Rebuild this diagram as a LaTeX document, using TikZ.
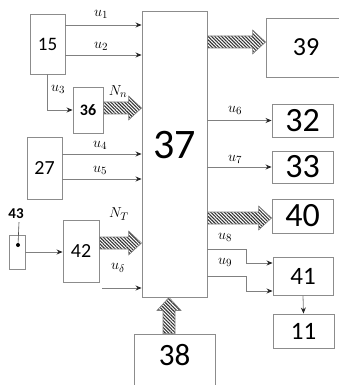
\documentclass[tikz,border=0pt]{standalone}
\usepackage{fontspec}
\setmainfont{Carlito}
\usetikzlibrary{positioning, arrows.meta, calc, patterns.meta}
\newcommand\fsz[1]{\fontsize{#1}{#1}\selectfont}

\begin{document}
\begin{tikzpicture}[x=1pt, y=-1pt,
  blk/.style={draw=black!45, line width=0.9pt, inner sep=0pt},
  conn/.style={draw=black!50, line width=0.8pt, -{Stealth[length=6pt, width=5pt, color=black!85]}},
  lbl/.style={font=\fsz{15}, inner sep=0pt},
  fat/.style={draw=black!50, line width=0.6pt,
    pattern={Lines[angle=-45, distance=2.4pt, line width=1.1pt]}, pattern color=black!80,
    to path={($(\tikztostart)!6pt!90:(\tikztotarget)$)
      -- ($($(\tikztotarget)!13pt!(\tikztostart)$)!6pt!-90:(\tikztostart)$)
      -- ($($(\tikztotarget)!13pt!(\tikztostart)$)!12pt!-90:(\tikztostart)$)
      -- (\tikztotarget)
      -- ($($(\tikztotarget)!13pt!(\tikztostart)$)!12pt!90:(\tikztostart)$)
      -- ($($(\tikztotarget)!13pt!(\tikztostart)$)!6pt!90:(\tikztostart)$)
      -- ($(\tikztostart)!6pt!-90:(\tikztotarget)$) -- cycle}}]
  \useasboundingbox (0,0) rectangle (339,385);
  \clip (0,0) rectangle (339,385);

  % Blocks on the left
  \node[blk, minimum width=35pt, minimum height=60pt, font=\fsz{19}] (n15) at (47.5,44) {15};
  \node[blk, minimum width=30pt, minimum height=46pt, font=\fsz{16}\bfseries] (n36) at (88,110) {36};
  \node[blk, minimum width=35pt, minimum height=62pt, font=\fsz{20}] (n27) at (44.5,168) {27};
  \node[blk, minimum width=16pt, minimum height=34pt] (n43) at (17,252) {};
  \node[blk, minimum width=36pt, minimum height=62pt, font=\fsz{20}] (n42) at (81,251) {42};

  % Sensor mark
  \node[circle, fill=black, inner sep=0pt, minimum size=4pt] (dot) at (18,245) {};
  \node[font=\fsz{15}\bfseries, inner sep=0pt] (l43) at (16,214) {43};
  \draw[black!70, line width=0.6pt] ([xshift=3pt, yshift=-3pt]l43.south) -- (dot);

  % Main block
  \node[blk, minimum width=65pt, minimum height=286pt, text depth=18pt, font=\fsz{42}] (n37) at (174.5,154) {37};
  \node[blk, minimum width=81pt, minimum height=56pt, text depth=14pt, font=\fsz{31}] (n38) at (174.5,362) {38};

  % Blocks on the right
  \node[blk, minimum width=80pt, minimum height=59pt, font=\fsz{26}] (n39) at (306,47.5) {39};
  \node[blk, minimum width=61pt, minimum height=33pt, font=\fsz{34}] (n32) at (302.5,120.5) {32};
  \node[blk, minimum width=61pt, minimum height=32pt, font=\fsz{34}] (n33) at (302.5,167) {33};
  \node[blk, minimum width=61pt, minimum height=34pt, font=\fsz{34}] (n40) at (302.5,216) {40};
  \node[blk, minimum width=60pt, minimum height=38pt, font=\fsz{25}] (n41) at (303,276) {41};
  \node[blk, minimum width=61pt, minimum height=34pt, font=\fsz{25}] (n11) at (303.5,331) {11};

  % Inputs
  \draw[conn] ([yshift=19pt]n15.east) -- ([yshift=19pt]n15.east -| n37.west);
  \draw[conn] ([yshift=-11pt]n15.east) -- ([yshift=-11pt]n15.east -| n37.west);
  \draw[conn] (n15.south) |- (n36.west);
  \path[fat] ([yshift=2pt]n36.east) to ([yshift=2pt]n36.east -| n37.west);
  \draw[conn] ([yshift=14pt]n27.east) -- ([yshift=14pt]n27.east -| n37.west);
  \draw[conn] ([yshift=-11pt]n27.east) -- ([yshift=-11pt]n27.east -| n37.west);
  \draw[conn] (n43.east) -- (n43.east -| n42.west);
  \path[fat] ([yshift=8pt]n42.east) to ([yshift=8pt]n42.east -| n37.west);
  \coordinate (ud) at (102,288);
  \draw[conn] (ud) -- (ud -| n37.west);
  \path[fat] ([xshift=-5.5pt]n38.north) to ([xshift=-5.5pt]n38.north |- n37.south);

  % Outputs
  \path[fat] ([yshift=5.5pt]n39.west -| n37.east) to ([yshift=5.5pt]n39.west);
  \draw[conn] (n32.west -| n37.east) -- (n32.west);
  \draw[conn] (n33.west -| n37.east) -- (n33.west);
  \path[fat] ([yshift=-2pt]n40.west -| n37.east) to ([yshift=-2pt]n40.west);
  \draw[conn] ([yshift=27pt]n41.west -| n37.east) -- ++(39pt,0) |- ([yshift=13pt]n41.west);
  \draw[conn] (n41.west -| n37.east) -- ++(39pt,0) |- ([yshift=-15pt]n41.west);
  \draw[conn] (n41.south) -- (n11.north);

  % Signal names
  \node[lbl] (lu1) at (101,14) {$u_1$};
  \node[lbl] (lu2) at (101,46) {$u_2$};
  \node[lbl] (lu3) at (58,89) {$u_3$};
  \node[lbl] (lNn) at (118,92) {$N_n$};
  \node[lbl] (lu4) at (100,145) {$u_4$};
  \node[lbl] (lu5) at (100,170) {$u_5$};
  \node[lbl] (lNT) at (119,214) {$N_T$};
  \node[lbl] (lud) at (118,268) {$u_\delta$};
  \node[lbl] (lu6) at (235,110) {$u_6$};
  \node[lbl] (lu7) at (235,159) {$u_7$};
  \node[lbl] (lu8) at (225,237) {$u_8$};
  \node[lbl] (lu9) at (225,262) {$u_9$};
\end{tikzpicture}
\end{document}
